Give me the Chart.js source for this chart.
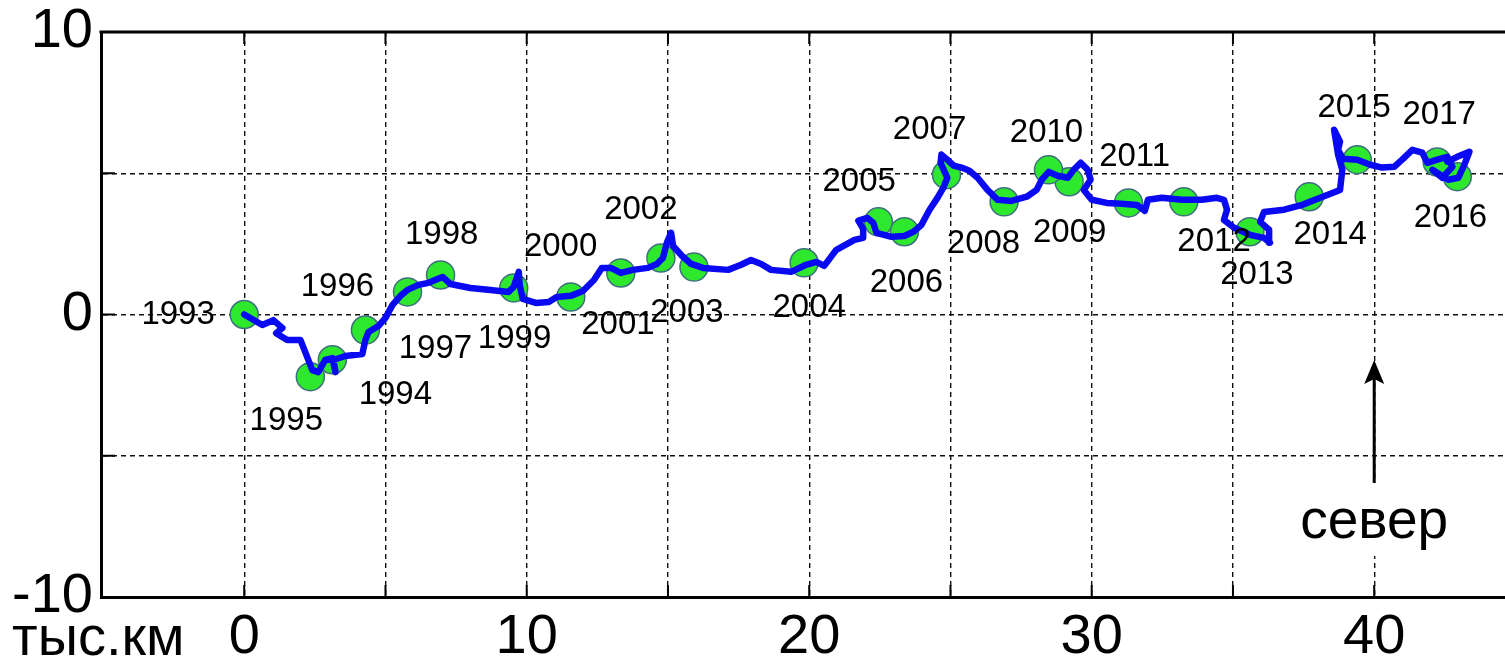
<!DOCTYPE html>
<html>
<head>
<meta charset="utf-8">
<script src="https://cdn.jsdelivr.net/npm/chart.js@4.4.1/dist/chart.umd.min.js"></script>
<style>
  html, body { margin: 0; padding: 0; background: #fff; overflow: hidden; }
  #wrap { width: 1505px; height: 661px; position: relative; }
</style>
</head>
<body>
<div id="wrap"><canvas id="drift"></canvas></div>
<script>
// drift track, thousand km: x eastwards, y northwards
const pathX = [0, 0.64, 1.03, 1.35, 1.13, 1.52, 1.99, 2.16, 2.41, 2.62, 2.87, 3.12, 3.23, 3.16, 3.58, 4.18, 4.29, 4.4, 4.75, 5.0,
  5.25, 5.53, 5.78, 6.17, 6.52, 7.02, 7.3, 8.01, 8.72, 9.36, 9.54, 9.72, 9.75, 9.86, 10.32, 10.78, 11.06, 11.56, 11.99, 12.38,
  12.66, 12.98, 13.33, 13.76, 14.29, 14.61, 14.82, 14.96, 15.11, 15.18, 15.5, 15.82, 16.24, 17.13, 17.59, 17.94, 18.3, 18.65, 19.36, 19.89,
  20.25, 20.53, 20.96, 21.6, 21.91, 21.91, 21.74, 22.06, 22.27, 22.38, 22.91, 23.37, 23.69, 23.97, 24.26, 24.54, 24.75, 24.89, 24.65, 24.68,
  24.89, 25.11, 25.39, 25.67, 25.96, 26.31, 26.67, 27.16, 27.7, 28.05, 28.23, 28.48, 28.79, 29.15, 29.36, 29.61, 29.86, 29.96, 29.72, 30.0,
  30.53, 31.06, 31.6, 31.88, 31.99, 32.48, 33.19, 33.9, 34.43, 34.68, 34.79, 34.68, 35.04, 35.6, 36.1, 36.31, 36.28, 35.96, 36.1, 36.81,
  37.45, 38.09, 38.79, 38.87, 38.72, 38.58, 38.79, 38.72, 38.9, 39.4, 39.86, 40.28, 40.71, 40.99, 41.35, 41.7, 41.88, 42.23, 42.59, 42.77,
  42.41, 42.06, 42.62, 42.98, 43.19, 43.37, 42.94, 42.59];
const pathY = [0, -0.37, -0.2, -0.48, -0.66, -0.9, -0.9, -1.33, -1.97, -2.04, -1.61, -1.54, -2.04, -1.61, -1.47, -1.4, -0.9, -0.62, -0.41, -0.12,
  0.34, 0.66, 0.87, 1.05, 1.12, 1.33, 1.08, 0.94, 0.87, 0.8, 0.98, 1.51, 1.05, 0.55, 0.41, 0.44, 0.62, 0.66, 0.83, 1.22,
  1.65, 1.65, 1.47, 1.58, 1.65, 1.79, 2.0, 2.54, 2.89, 2.43, 2.07, 1.79, 1.65, 1.58, 1.76, 1.93, 1.79, 1.58, 1.51, 1.76,
  1.86, 1.72, 2.29, 2.64, 2.71, 3.03, 3.32, 3.42, 3.24, 2.89, 2.75, 2.78, 2.93, 3.17, 3.71, 4.13, 4.49, 4.84, 5.37, 5.66,
  5.48, 5.27, 5.2, 5.09, 4.84, 4.41, 4.06, 4.02, 4.17, 4.41, 4.77, 5.05, 4.91, 4.84, 5.12, 5.37, 5.12, 4.77, 4.41, 4.06,
  3.95, 3.92, 3.88, 3.67, 4.06, 4.13, 4.06, 4.06, 4.13, 4.06, 3.71, 3.35, 3.07, 2.82, 2.71, 2.54, 3.0, 3.28, 3.63, 3.71,
  3.88, 4.13, 4.41, 5.12, 5.66, 6.54, 6.12, 5.83, 5.51, 5.48, 5.3, 5.2, 5.23, 5.48, 5.83, 5.73, 5.37, 5.48, 5.58, 5.23,
  4.84, 5.12, 4.77, 4.84, 5.3, 5.76, 5.58, 5.41];

// position at the start of each year
const years = ["1993", "1994", "1995", "1996", "1997", "1998", "1999", "2000", "2001", "2002", "2003", "2004", "2005",
  "2006", "2007", "2008", "2009", "2010", "2011", "2012", "2013", "2014", "2015", "2016", "2017"];
const yearX = [0, 3.12, 2.34, 4.29, 5.78, 6.95, 9.54, 11.56, 13.33, 14.75, 15.92, 19.82, 22.45,
  23.37, 24.86, 26.9, 29.2, 28.47, 31.3, 33.26, 35.6, 37.7, 39.4, 42.94, 42.23];
const yearY = [0, -1.6, -2.2, -0.55, 0.8, 1.4, 0.94, 0.62, 1.47, 2.0, 1.68, 1.83, 3.28,
  2.93, 4.95, 3.99, 4.7, 5.12, 3.95, 3.99, 2.93, 4.17, 5.48, 4.88, 5.4];
// where the year captions sit (centre of text)
const labelX = [-2.34, 5.35, 1.49, 3.3, 6.77, 6.99, 9.57, 11.2, 13.23, 14.04, 15.67, 20.0, 21.77,
  23.44, 24.26, 26.17, 29.22, 28.4, 31.52, 34.33, 35.85, 38.44, 39.29, 42.7, 42.3];
const labelY = [0, -2.85, -3.78, 0.98, -1.22, 2.82, -0.87, 2.39, -0.37, 3.71, 0.05, 0.23, 4.7,
  1.12, 6.54, 2.5, 2.89, 6.44, 5.58, 2.57, 1.4, 2.82, 7.32, 3.42, 7.07];

const xTicks = [0, 5, 10, 15, 20, 25, 30, 35, 40];
const xLabelled = [0, 10, 20, 30, 40];
const yTicks = [-10, -5, 0, 5, 10];
const yLabelled = [-10, 0, 10];
const unitText = "тыс.км";
const northText = "север";
const northX = 40, northTipY = -1.61, northTailY = -5.96, northTextY = -7.91;

const FONT = '"Liberation Sans", Arial, sans-serif';

const extras = {
  id: 'extras',
  afterDatasetsDraw(chart) {
    const ctx = chart.ctx;
    const xs = chart.scales.x, ys = chart.scales.y;
    ctx.save();
    // year captions
    ctx.fillStyle = '#000';
    ctx.font = '33px ' + FONT;
    ctx.textAlign = 'center';
    ctx.textBaseline = 'middle';
    years.forEach((t, i) => {
      ctx.fillText(t, xs.getPixelForValue(labelX[i]), ys.getPixelForValue(labelY[i]));
    });
    // north arrow + caption
    const nx = xs.getPixelForValue(northX);
    const tip = ys.getPixelForValue(northTipY);
    const tail = ys.getPixelForValue(northTailY);
    const ty = ys.getPixelForValue(northTextY);
    ctx.font = '55px ' + FONT;
    const w = ctx.measureText(northText).width;
    ctx.fillStyle = '#fff';
    ctx.fillRect(nx - w / 2 - 4, tail, w + 8, ty - tail + 18);
    ctx.fillStyle = '#000';
    ctx.textBaseline = 'alphabetic';
    ctx.fillText(northText, nx, ty);
    ctx.strokeStyle = '#000';
    ctx.lineWidth = 3;
    ctx.beginPath();
    ctx.moveTo(nx, tail);
    ctx.lineTo(nx, tip + 15);
    ctx.stroke();
    ctx.beginPath();
    ctx.moveTo(nx, tip);
    ctx.lineTo(nx - 10, tip + 24);
    ctx.lineTo(nx, tip + 19);
    ctx.lineTo(nx + 10, tip + 24);
    ctx.closePath();
    ctx.fill();
    ctx.restore();
  },
  afterDraw(chart) {
    const ctx = chart.ctx;
    const xs = chart.scales.x, ys = chart.scales.y;
    const a = chart.chartArea;
    ctx.save();
    ctx.strokeStyle = '#000';
    // top frame line
    ctx.lineWidth = 3;
    ctx.beginPath();
    ctx.moveTo(a.left - 1.5, a.top);
    ctx.lineTo(chart.width, a.top);
    ctx.stroke();
    // inward tick marks
    ctx.lineWidth = 2;
    ctx.beginPath();
    xTicks.forEach(v => {
      const px = xs.getPixelForValue(v);
      ctx.moveTo(px, a.bottom); ctx.lineTo(px, a.bottom - 12);
      ctx.moveTo(px, a.top); ctx.lineTo(px, a.top + 12);
    });
    yTicks.forEach(v => {
      const py = ys.getPixelForValue(v);
      ctx.moveTo(a.left, py); ctx.lineTo(a.left + 14, py);
    });
    ctx.stroke();
    // unit caption under the y axis
    ctx.fillStyle = '#000';
    ctx.font = '56px ' + FONT;
    ctx.textAlign = 'left';
    ctx.textBaseline = 'alphabetic';
    ctx.fillText(unitText, 12, 655);
    ctx.restore();
  }
};

new Chart(document.getElementById('drift'), {
  type: 'scatter',
  data: {
    datasets: [
      {
        label: 'track',
        data: pathX.map((x, i) => ({ x: x, y: pathY[i] })),
        showLine: true,
        borderColor: '#0a0af2',
        borderWidth: 6.5,
        borderJoinStyle: 'round',
        borderCapStyle: 'round',
        pointRadius: 0,
        tension: 0,
        order: 0
      },
      {
        label: 'years',
        data: yearX.map((x, i) => ({ x: x, y: yearY[i] })),
        pointRadius: 14,
        pointBackgroundColor: '#2ee82e',
        pointBorderColor: '#3f6f7f',
        pointBorderWidth: 1.5,
        order: 1
      }
    ]
  },
  options: {
    responsive: true,
    maintainAspectRatio: false,
    animation: false,
    events: [],
    layout: { autoPadding: false, padding: { top: 32, left: 0, right: 0, bottom: 0 } },
    plugins: { legend: { display: false }, tooltip: { enabled: false } },
    scales: {
      x: {
        type: 'linear',
        min: -5.07,
        max: 44.63,
        afterBuildTicks: axis => { axis.ticks = xTicks.map(v => ({ value: v })); },
        afterFit: axis => { axis.height = 64; axis.paddingLeft = 0; axis.paddingRight = 0; },
        grid: { color: '#111', lineWidth: 1.4, drawTicks: false },
        border: { display: true, color: '#000', width: 3, dash: [5, 4] },
        ticks: {
          padding: 13,
          color: '#000',
          maxRotation: 0,
          autoSkip: false,
          font: { family: FONT, size: 56, lineHeight: 1 },
          callback: v => xLabelled.includes(v) ? String(v) : ''
        }
      },
      y: {
        type: 'linear',
        min: -10,
        max: 10,
        afterBuildTicks: axis => { axis.ticks = yTicks.map(v => ({ value: v })); },
        afterFit: axis => { axis.width = 101; axis.paddingTop = 0; axis.paddingBottom = 0; },
        grid: { color: '#111', lineWidth: 1.4, drawTicks: false },
        border: { display: true, color: '#000', width: 3, dash: [5, 4] },
        ticks: {
          padding: 8,
          color: '#000',
          autoSkip: false,
          font: { family: FONT, size: 56, lineHeight: 1 },
          callback: v => yLabelled.includes(v) ? String(v) : ''
        }
      }
    }
  },
  plugins: [extras]
});
</script>
</body>
</html>
